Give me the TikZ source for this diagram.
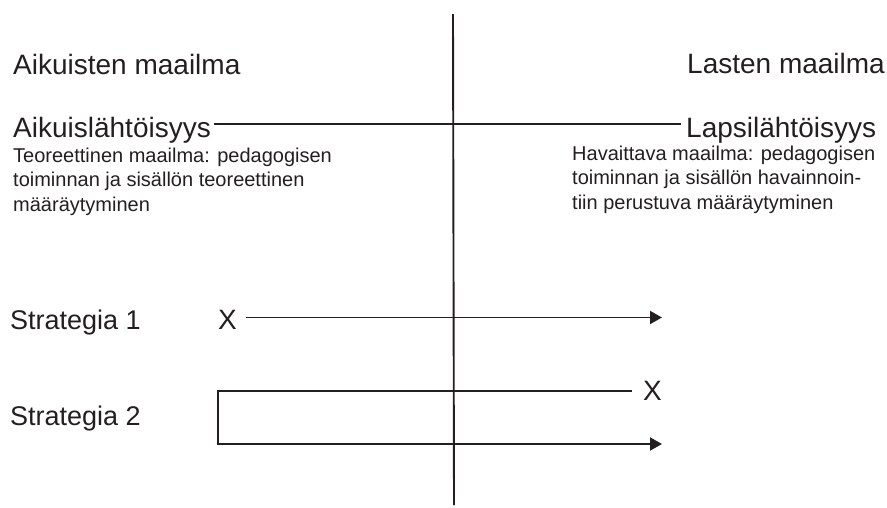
\documentclass[tikz,border=0pt]{standalone}
\usepackage{fontspec}
\setmainfont{Liberation Sans}
\usetikzlibrary{arrows.meta}
\definecolor{ink}{HTML}{231F20}
\tikzset{
  big/.style={inner sep=0pt, anchor=base west, text=ink, font=\fontsize{28}{32}\selectfont},
  strat/.style={big, font=\fontsize{27}{32}\selectfont},
  small/.style={inner sep=0pt, anchor=north west, text=ink, align=left, font=\fontsize{20}{24.5}\selectfont},
  ln/.style={draw=ink, line width=1.9pt},
  arr/.style={ln, -{Triangle[length=12pt,width=13pt]}}
}
\begin{document}
\begin{tikzpicture}[x=1pt,y=-1pt]
\useasboundingbox (0,0) rectangle (887,507);
% vertical divider
\coordinate (vtop) at (453,14);
\coordinate (vbot) at (454,505);
\draw[ln] (vtop) -- (vbot);
% titles
\node[big] (aw) at (13,74) {Aikuisten maailma};
\node[big] (lw) at (687,73) {Lasten maailma};
\node[big] (ai) at (13,137) {Aikuislähtöisyys};
\node[big] (la) at (686,137) {Lapsilähtöisyys};
\draw[ln] ([xshift=3pt,yshift=13pt]ai.base east) -- ([xshift=-5pt,yshift=13pt]la.base west);
% descriptions
\node[small] (td) at (13,147.5) {Teoreettinen maailma: pedagogisen\\toiminnan ja sisällön teoreettinen\\määräytyminen};
\node[small] (hd) at (572,145.5) {Havaittava maailma: pedagogisen\\toiminnan ja sisällön havainnoin-\\tiin perustuva määräytyminen};
% strategies
\node[strat] (s1) at (10,329) {Strategia 1};
\node[strat] (s2) at (10,425) {Strategia 2};
\node[big] (x1) at (218,329) {X};
\node[big] (x2) at (643,400) {X};
\coordinate (e1) at (662,317.5);
\coordinate (c2a) at (218,391);
\coordinate (c2b) at (218,444);
\coordinate (e2) at (662,444);
\draw[arr] ([xshift=9pt]x1.east |- e1) -- (e1);
\draw[arr] ([xshift=-11pt]x2.west |- c2a) -- (c2a) -- (c2b) -- (e2);
\end{tikzpicture}
\end{document}
